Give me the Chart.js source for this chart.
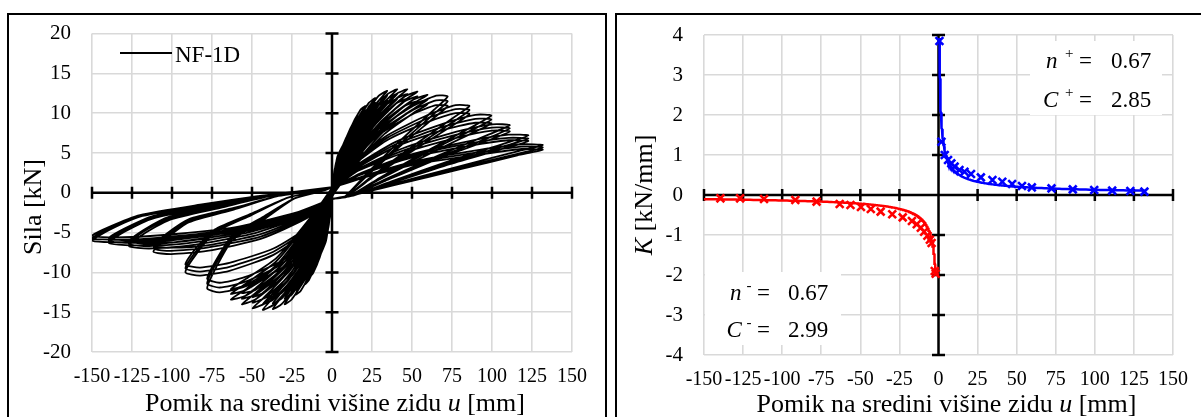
<!DOCTYPE html>
<html>
<head>
<meta charset="utf-8">
<script src="https://cdn.jsdelivr.net/npm/chart.js@4.4.1/dist/chart.umd.min.js"></script>
<style>
  html, body { margin: 0; padding: 0; background: #fff; width: 1201px; height: 417px; overflow: hidden; }
  .panel { position: absolute; border: 2px solid #000; box-sizing: border-box; }
  canvas { position: absolute; top: 0; }
</style>
</head>
<body>
<div class="panel" style="left:7px; top:13px; width:600px; height:520px;"></div>
<div class="panel" style="left:615px; top:13px; width:700px; height:520px;"></div>
<canvas id="hyst" width="610" height="417" style="left:0px;"></canvas>
<canvas id="stiff" width="591" height="417" style="left:610px;"></canvas>
<script>
// ---------------- Force-displacement loops, specimen NF-1D ----------------
// Each cycle: [u, F] pairs in mm / kN, positive half then negative half.
// "b" and "c" arrays are the repeated cycles at the same amplitude.
const cycle01 = [[0,0],[0.16,1.05],[0.4,1.5],[0.2,0.68],[0,-0.3],[-0.7,-2.5],[-1.8,-3.5],[-0.9,-1.6],[0,0.2]];
const cycle02 = [[0.8,1.9],[1.9,2.7],[0.95,1.2],[0,-0.3],[-1.8,-3.7],[-4.4,-5.3],[-2.2,-2.4],[0,0.2]];
const cycle03 = [[1.6,2.9],[4,4.2],[2,1.9],[0,-0.3],[-2.2,-4.3],[-5.5,-6.2],[-2.8,-2.8],[0,0.2]];
const cycle04 = [[2.4,3.7],[6.1,5.3],[3.1,2.4],[0,-0.3],[-2.8,-5.0],[-7.1,-7.2],[-3.6,-3.2],[0,0.2]];
const cycle05 = [[3.3,4.5],[8.2,6.4],[4.1,2.9],[0,-0.4],[-3.7,-6.0],[-9.2,-8.5],[-4.6,-3.8],[0,0.4]];
const cycle06 = [[2.6,2.9],[5.7,5.3],[8.8,6.9],[10.3,7.3],[8.8,6.6],[5.7,5.0],[2.6,2.4],[0,-0.5],[-2.8,-4.1],[-6.2,-7.2],[-9.6,-9.1],[-11.3,-9.5],[-9.6,-8.6],[-6.2,-6.5],[-2.8,-2.9],[0,0.5]];
const cycle06b = [[2.6,2.7],[5.7,5.0],[8.8,6.6],[10.3,6.9],[8.8,6.2],[5.7,4.6],[2.6,2.2],[0,-0.4],[-2.8,-3.9],[-6.2,-6.8],[-9.6,-8.6],[-11.3,-9.0],[-9.6,-8.1],[-6.2,-6.1],[-2.8,-2.8],[0,0.4]];
const cycle06c = [[2.6,2.6],[5.7,4.8],[8.8,6.3],[10.3,6.6],[8.8,5.9],[5.7,4.4],[2.6,2.1],[0,-0.4],[-2.8,-3.7],[-6.2,-6.5],[-9.6,-8.2],[-11.3,-8.6],[-9.6,-7.7],[-6.2,-5.8],[-2.8,-2.7],[0,0.4]];
const cycle07 = [[3.4,3.4],[7.4,6.1],[11.4,8.0],[13.4,8.4],[11.4,7.6],[7.4,5.7],[3.4,2.8],[0,-0.5],[-3.5,-4.5],[-7.6,-8.0],[-11.8,-10.1],[-13.9,-10.5],[-11.8,-9.5],[-7.6,-7.1],[-3.5,-3.3],[0,0.5]];
const cycle07b = [[3.4,3.1],[7.4,5.8],[11.4,7.6],[13.4,8.0],[11.4,7.2],[7.4,5.4],[3.4,2.6],[0,-0.4],[-3.5,-4.3],[-7.6,-7.6],[-11.8,-9.6],[-13.9,-10.0],[-11.8,-9.0],[-7.6,-6.8],[-3.5,-3.1],[0,0.4]];
const cycle07c = [[3.4,2.9],[7.4,5.5],[11.4,7.2],[13.4,7.6],[11.4,6.8],[7.4,5.1],[3.4,2.5],[0,-0.4],[-3.5,-4.1],[-7.6,-7.2],[-11.8,-9.1],[-13.9,-9.5],[-11.8,-8.6],[-7.6,-6.5],[-3.5,-2.9],[0,0.4]];
const cycle08 = [[4.2,3.8],[9.1,7.0],[14.1,9.1],[16.6,9.6],[14.1,8.7],[9.1,6.5],[4.2,3.2],[0,-0.5],[-4.3,-4.9],[-9.4,-8.7],[-14.5,-11.0],[-17,-11.5],[-14.5,-10.4],[-9.4,-7.8],[-4.3,-3.6],[0,0.5]];
const cycle08b = [[4.2,3.5],[9.1,6.6],[14.1,8.6],[16.6,9.1],[14.1,8.2],[9.1,6.1],[4.2,2.9],[0,-0.4],[-4.3,-4.7],[-9.4,-8.3],[-14.5,-10.5],[-17,-10.9],[-14.5,-9.8],[-9.4,-7.4],[-4.3,-3.4],[0,0.4]];
const cycle08c = [[4.2,3.3],[9.1,6.3],[14.1,8.2],[16.6,8.6],[14.1,7.8],[9.1,5.8],[4.2,2.8],[0,-0.4],[-4.3,-4.5],[-9.4,-7.9],[-14.5,-10.0],[-17,-10.4],[-14.5,-9.3],[-9.4,-7.0],[-4.3,-3.2],[0,0.4]];
const cycle09 = [[5.2,4.4],[11.4,8.0],[17.7,10.4],[20.8,10.9],[17.7,9.9],[11.4,7.4],[5.2,3.6],[0,-0.5],[-5.7,-5.5],[-12.6,-9.7],[-19.5,-12.3],[-22.9,-12.8],[-19.5,-11.5],[-12.6,-8.7],[-5.7,-4.0],[0,0.5]];
const cycle09b = [[5.2,4.1],[11.4,7.5],[17.7,9.9],[20.8,10.4],[17.7,9.4],[11.4,7.0],[5.2,3.3],[0,-0.4],[-5.7,-5.2],[-12.6,-9.3],[-19.5,-11.7],[-22.9,-12.2],[-19.5,-11.0],[-12.6,-8.3],[-5.7,-3.8],[0,0.4]];
const cycle09c = [[5.2,3.9],[11.4,7.1],[17.7,9.4],[20.8,9.9],[17.7,8.9],[11.4,6.7],[5.2,3.1],[0,-0.4],[-5.7,-4.9],[-12.6,-8.8],[-19.5,-11.1],[-22.9,-11.6],[-19.5,-10.5],[-12.6,-7.9],[-5.7,-3.6],[0,0.4]];
const cycle10 = [[6.8,4.8],[14.9,8.7],[23,11.3],[27.1,11.9],[23,10.8],[14.9,8.1],[6.8,3.9],[0,-0.5],[-7.4,-6.0],[-16.3,-10.6],[-25.2,-13.4],[-29.6,-14.0],[-25.2,-12.6],[-16.3,-9.5],[-7.4,-4.3],[0,0.5]];
const cycle10b = [[6.8,4.4],[14.9,8.1],[23,10.7],[27.1,11.3],[23,10.2],[14.9,7.6],[6.8,3.6],[0,-0.4],[-7.4,-5.7],[-16.3,-10.1],[-25.2,-12.8],[-29.6,-13.3],[-25.2,-12.0],[-16.3,-9.0],[-7.4,-4.1],[0,0.4]];
const cycle10c = [[6.8,4.2],[14.9,7.7],[23,10.2],[27.1,10.7],[23,9.7],[14.9,7.2],[6.8,3.4],[0,-0.4],[-7.4,-5.4],[-16.3,-9.6],[-25.2,-12.2],[-29.6,-12.6],[-25.2,-11.4],[-16.3,-8.6],[-7.4,-3.9],[0,0.4]];
const cycle11 = [[8.6,5.1],[19,9.3],[29.3,12.2],[34.5,12.8],[29.3,11.6],[19,8.7],[8.6,4.2],[0,-0.5],[-9.3,-6.3],[-20.4,-11.1],[-31.5,-14.0],[-37,-14.6],[-31.5,-13.1],[-20.4,-9.9],[-9.3,-4.5],[0,0.5]];
const cycle11b = [[8.6,4.8],[19,8.8],[29.3,11.6],[34.5,12.2],[29.3,11.0],[19,8.2],[8.6,3.9],[0,-0.4],[-9.3,-6.0],[-20.4,-10.6],[-31.5,-13.3],[-37,-13.9],[-31.5,-12.5],[-20.4,-9.5],[-9.3,-4.3],[0,0.4]];
const cycle11c = [[8.6,4.6],[19,8.4],[29.3,11.0],[34.5,11.6],[29.3,10.5],[19,7.8],[8.6,3.7],[0,-0.4],[-9.3,-5.7],[-20.4,-10.1],[-31.5,-12.6],[-37,-13.2],[-31.5,-11.9],[-20.4,-9.0],[-9.3,-4.1],[0,0.4]];
const cycle12 = [[10.2,5.2],[22.4,9.5],[34.7,12.4],[40.8,13.0],[34.7,11.8],[22.4,8.8],[10.2,4.3],[0,-0.5],[-10.8,-6.3],[-23.8,-11.2],[-36.8,-14.1],[-43.3,-14.7],[-36.8,-13.2],[-23.8,-10.0],[-10.8,-4.6],[0,0.5]];
const cycle12b = [[10.2,4.8],[22.4,8.9],[34.7,11.8],[40.8,12.4],[34.7,11.2],[22.4,8.3],[10.2,4.0],[0,-0.4],[-10.8,-6.0],[-23.8,-10.6],[-36.8,-13.4],[-43.3,-14.0],[-36.8,-12.6],[-23.8,-9.5],[-10.8,-4.3],[0,0.4]];
const cycle12c = [[10.2,4.6],[22.4,8.5],[34.7,11.2],[40.8,11.8],[34.7,10.6],[22.4,7.9],[10.2,3.8],[0,-0.4],[-10.8,-5.7],[-23.8,-10.1],[-36.8,-12.7],[-43.3,-13.3],[-36.8,-12.0],[-23.8,-9.0],[-10.8,-4.1],[0,0.4]];
const cycle13 = [[11.8,5.2],[25.9,9.5],[40,12.4],[47.1,13.0],[40,11.8],[25.9,8.8],[11.8,4.3],[0,-0.5],[-12.4,-6.2],[-27.3,-11.0],[-42.2,-13.9],[-49.6,-14.5],[-42.2,-13.1],[-27.3,-9.9],[-12.4,-4.5],[0,0.5]];
const cycle13b = [[11.8,4.8],[25.9,8.9],[40,11.8],[47.1,12.4],[40,11.2],[25.9,8.3],[11.8,4.0],[0,-0.4],[-12.4,-5.9],[-27.3,-10.5],[-42.2,-13.2],[-49.6,-13.8],[-42.2,-12.4],[-27.3,-9.4],[-12.4,-4.3],[0,0.4]];
const cycle13c = [[11.8,4.6],[25.9,8.5],[40,11.2],[47.1,11.8],[40,10.6],[25.9,7.9],[11.8,3.8],[0,-0.4],[-12.4,-5.6],[-27.3,-10.0],[-42.2,-12.5],[-49.6,-13.1],[-42.2,-11.8],[-27.3,-8.9],[-12.4,-4.1],[0,0.4]];
const cycle14 = [[13.4,5.1],[29.4,9.3],[45.4,12.1],[53.4,12.7],[45.4,11.6],[29.4,8.6],[13.4,4.2],[0,-0.5],[-14.1,-6.0],[-31,-10.6],[-47.9,-13.4],[-56.3,-14.0],[-47.9,-12.6],[-31,-9.5],[-14.1,-4.3],[0,0.5]];
const cycle14b = [[13.4,4.7],[29.4,8.7],[45.4,11.5],[53.4,12.1],[45.4,10.9],[29.4,8.1],[13.4,3.9],[0,-0.4],[-14.1,-5.7],[-31,-10.1],[-47.9,-12.8],[-56.3,-13.3],[-47.9,-12.0],[-31,-9.0],[-14.1,-4.1],[0,0.4]];
const cycle14c = [[13.4,4.5],[29.4,8.3],[45.4,10.9],[53.4,11.5],[45.4,10.4],[29.4,7.7],[13.4,3.7],[0,-0.4],[-14.1,-5.4],[-31,-9.6],[-47.9,-12.2],[-56.3,-12.6],[-47.9,-11.4],[-31,-8.6],[-14.1,-3.9],[0,0.4]];
const cycle15 = [[14.9,4.9],[32.8,9.0],[50.7,11.7],[59.7,12.3],[50.7,11.2],[32.8,8.4],[14.9,4.1],[0,-0.5],[-15.8,-5.8],[-34.8,-10.2],[-53.7,-12.9],[-63.2,-13.4],[-53.7,-12.1],[-34.8,-9.1],[-15.8,-4.2],[0,0.6]];
const cycle15b = [[14.9,4.6],[32.8,8.4],[50.7,11.1],[59.7,11.7],[50.7,10.5],[32.8,7.8],[14.9,3.7],[0,-0.4],[-15.8,-5.5],[-34.8,-9.7],[-53.7,-12.2],[-63.2,-12.7],[-53.7,-11.4],[-34.8,-8.6],[-15.8,-3.9],[0,0.6]];
const cycle15c = [[14.9,4.4],[32.8,8.0],[50.7,10.5],[59.7,11.1],[50.7,10.0],[32.8,7.4],[14.9,3.5],[0,-0.4],[-15.8,-5.2],[-34.8,-9.2],[-53.7,-11.6],[-63.2,-12.1],[-53.7,-10.8],[-34.8,-8.2],[-15.8,-3.7],[0,0.6]];
const cycle16 = [[10.8,4.2],[28.9,8.0],[50.6,10.9],[65.1,12.2],[72.3,12.1],[63.6,10.4],[43.4,6.7],[21.7,2.4],[7.2,-0.6],[0,-0.8],[-11.7,-5.4],[-31.2,-9.4],[-54.6,-11.8],[-70.2,-12.5],[-78,-12.0],[-72.5,-9.4],[-62.4,-6.0],[-42.9,-3.4],[-23.4,-0.7],[0,0.7]];
const cycle16b = [[10.8,4.0],[28.9,7.6],[50.6,10.4],[65.1,11.6],[72.3,11.5],[63.6,9.9],[43.4,6.3],[21.7,2.2],[7.2,-0.6],[0,-0.8],[-11.7,-5.1],[-31.2,-8.9],[-54.6,-11.2],[-70.2,-11.9],[-78,-11.4],[-72.5,-8.9],[-62.4,-5.7],[-42.9,-3.2],[-23.4,-0.7],[0,0.7]];
const cycle16c = [[10.8,3.8],[28.9,7.2],[50.6,9.9],[65.1,11.0],[72.3,10.9],[63.6,9.4],[43.4,6.0],[21.7,2.1],[7.2,-0.6],[0,-0.8],[-11.7,-4.8],[-31.2,-8.5],[-54.6,-10.6],[-70.2,-11.3],[-78,-10.8],[-72.5,-8.5],[-62.4,-5.4],[-42.9,-3.0],[-23.4,-0.7],[0,0.7]];
const cycle17 = [[12.9,3.8],[34.4,7.2],[60.1,9.8],[77.3,11.0],[85.9,10.9],[75.6,9.4],[51.5,6.0],[25.8,2.2],[8.6,-0.5],[0,-0.8],[-13.7,-4.5],[-36.6,-7.8],[-64.1,-9.8],[-82.4,-10.4],[-91.6,-10.0],[-85.2,-7.8],[-73.3,-5.0],[-50.4,-2.8],[-27.5,-0.6],[0,0.7]];
const cycle17b = [[12.9,3.6],[34.4,6.9],[60.1,9.4],[77.3,10.5],[85.9,10.4],[75.6,8.9],[51.5,5.7],[25.8,2.1],[8.6,-0.5],[0,-0.8],[-13.7,-4.3],[-36.6,-7.4],[-64.1,-9.3],[-82.4,-9.9],[-91.6,-9.5],[-85.2,-7.4],[-73.3,-4.8],[-50.4,-2.7],[-27.5,-0.6],[0,0.7]];
const cycle17c = [[12.9,3.4],[34.4,6.6],[60.1,8.9],[77.3,10.0],[85.9,9.9],[75.6,8.5],[51.5,5.4],[25.8,2.0],[8.6,-0.5],[0,-0.8],[-13.7,-4.1],[-36.6,-7.0],[-64.1,-8.8],[-82.4,-9.4],[-91.6,-9.0],[-85.2,-7.0],[-73.3,-4.6],[-50.4,-2.6],[-27.5,-0.6],[0,0.7]];
const cycle18 = [[14.9,3.4],[39.8,6.4],[69.7,8.7],[89.6,9.8],[99.6,9.7],[87.6,8.3],[59.8,5.3],[29.9,1.9],[10,-0.5],[0,-0.8],[-16.7,-3.3],[-44.6,-5.8],[-78.1,-7.3],[-100.4,-7.7],[-111.6,-7.4],[-103.8,-5.8],[-89.3,-3.7],[-61.4,-2.1],[-33.5,-0.4],[0,0.7]];
const cycle18b = [[14.9,3.2],[39.8,6.1],[69.7,8.3],[89.6,9.3],[99.6,9.2],[87.6,7.9],[59.8,5.1],[29.9,1.8],[10,-0.5],[0,-0.8],[-16.7,-3.1],[-44.6,-5.5],[-78.1,-6.9],[-100.4,-7.3],[-111.6,-7.0],[-103.8,-5.5],[-89.3,-3.5],[-61.4,-2.0],[-33.5,-0.4],[0,0.7]];
const cycle18c = [[14.9,3.0],[39.8,5.8],[69.7,7.9],[89.6,8.8],[99.6,8.7],[87.6,7.5],[59.8,4.8],[29.9,1.7],[10,-0.5],[0,-0.8],[-16.7,-2.9],[-44.6,-5.2],[-78.1,-6.6],[-100.4,-6.9],[-111.6,-6.7],[-103.8,-5.2],[-89.3,-3.3],[-61.4,-1.9],[-33.5,-0.4],[0,0.7]];
const cycle19 = [[16.7,3.0],[44.4,5.6],[77.8,7.7],[100,8.6],[111.1,8.5],[97.8,7.3],[66.7,4.7],[33.3,1.7],[11.1,-0.4],[0,-0.8],[-19,-3.0],[-50.8,-5.2],[-88.8,-6.6],[-114.2,-7.0],[-126.9,-6.7],[-118,-5.2],[-101.5,-3.4],[-69.8,-1.9],[-38.1,-0.4],[0,0.7]];
const cycle19b = [[16.7,2.9],[44.4,5.3],[77.8,7.3],[100,8.2],[111.1,8.1],[97.8,6.9],[66.7,4.5],[33.3,1.6],[11.1,-0.4],[0,-0.8],[-19,-2.9],[-50.8,-4.9],[-88.8,-6.3],[-114.2,-6.7],[-126.9,-6.4],[-118,-4.9],[-101.5,-3.2],[-69.8,-1.8],[-38.1,-0.4],[0,0.7]];
const cycle19c = [[16.7,2.8],[44.4,5.0],[77.8,6.9],[100,7.8],[111.1,7.7],[97.8,6.6],[66.7,4.3],[33.3,1.5],[11.1,-0.4],[0,-0.8],[-19,-2.8],[-50.8,-4.7],[-88.8,-6.0],[-114.2,-6.4],[-126.9,-6.1],[-118,-4.7],[-101.5,-3.0],[-69.8,-1.7],[-38.1,-0.4],[0,0.7]];
const cycle20 = [[18.4,2.5],[49.1,4.8],[85.9,6.5],[110.4,7.3],[122.7,7.2],[108,6.2],[73.6,4.0],[36.8,1.4],[12.3,-0.4],[0,-0.8],[-20.9,-2.8],[-55.8,-4.9],[-97.7,-6.2],[-125.6,-6.6],[-139.5,-6.3],[-129.7,-4.9],[-111.6,-3.2],[-76.7,-1.8],[-41.9,-0.4],[0,0.7]];
const cycle20b = [[18.4,2.4],[49.1,4.6],[85.9,6.2],[110.4,6.9],[122.7,6.8],[108,5.9],[73.6,3.8],[36.8,1.3],[12.3,-0.4],[0,-0.8],[-20.9,-2.7],[-55.8,-4.7],[-97.7,-5.9],[-125.6,-6.3],[-139.5,-6.0],[-129.7,-4.7],[-111.6,-3.0],[-76.7,-1.7],[-41.9,-0.4],[0,0.7]];
const cycle20c = [[18.4,2.3],[49.1,4.4],[85.9,5.9],[110.4,6.6],[122.7,6.5],[108,5.6],[73.6,3.6],[36.8,1.2],[12.3,-0.4],[0,-0.8],[-20.9,-2.6],[-55.8,-4.5],[-97.7,-5.6],[-125.6,-6.0],[-139.5,-5.7],[-129.7,-4.5],[-111.6,-2.9],[-76.7,-1.6],[-41.9,-0.4],[0,0.7]];
const cycle21 = [[19.8,2.1],[52.7,4.0],[92.2,5.4],[118.5,6.1],[131.7,6.0],[115.9,5.2],[79,3.3],[39.5,1.2],[13.2,-0.3],[0,-0.8],[-22.5,-2.7],[-60,-4.7],[-105,-5.9],[-135,-6.2],[-150,-6.0],[-139.5,-4.7],[-120,-3.0],[-82.5,-1.7],[-45,-0.4],[0,0.7]];
const cycle21b = [[19.8,2.0],[52.7,3.8],[92.2,5.1],[118.5,5.8],[131.7,5.7],[115.9,4.9],[79,3.1],[39.5,1.1],[13.2,-0.3],[0,-0.8],[-22.5,-2.6],[-60,-4.5],[-105,-5.6],[-135,-5.9],[-150,-5.7],[-139.5,-4.5],[-120,-2.9],[-82.5,-1.6],[-45,-0.4],[0,0.7]];
const cycle21c = [[19.8,1.9],[52.7,3.6],[92.2,4.8],[118.5,5.5],[131.7,5.4],[115.9,4.7],[79,2.9],[39.5,1.0],[13.2,-0.3],[0,-0.8],[-22.5,-2.5],[-60,-4.3],[-105,-5.3],[-135,-5.6],[-150,-5.4],[-139.5,-4.3],[-120,-2.8],[-82.5,-1.5],[-45,-0.4],[0,0.7]];
const cycles = [cycle01, cycle02, cycle03, cycle04, cycle05,
  cycle06, cycle06b, cycle06c, cycle07, cycle07b, cycle07c, cycle08, cycle08b, cycle08c,
  cycle09, cycle09b, cycle09c, cycle10, cycle10b, cycle10c, cycle11, cycle11b, cycle11c,
  cycle12, cycle12b, cycle12c, cycle13, cycle13b, cycle13c, cycle14, cycle14b, cycle14c,
  cycle15, cycle15b, cycle15c, cycle16, cycle16b, cycle16c, cycle17, cycle17b, cycle17c,
  cycle18, cycle18b, cycle18c, cycle19, cycle19b, cycle19c, cycle20, cycle20b, cycle20c,
  cycle21, cycle21b, cycle21c];

// ---------------- Secant stiffness per cycle ----------------
const stiffPosU = [0.6, 1.9, 4.0, 6.1, 8.2, 10.3, 13.4, 16.6, 20.8, 27.1, 34.5, 40.8, 47.1, 53.4, 59.7, 72.3, 85.9, 99.6, 111.1, 122.7, 131.7];
const stiffPosK = [3.85, 1.33, 1.0, 0.875, 0.79, 0.71, 0.625, 0.58, 0.525, 0.44, 0.375, 0.33, 0.275, 0.225, 0.19, 0.165, 0.14, 0.125, 0.11, 0.10, 0.085];
const stiffNegU = [-1.8, -2.4, -4.4, -5.5, -7.1, -9.2, -11.3, -13.9, -17, -22.9, -29.6, -37, -43.3, -49.6, -56.3, -63.2, -78, -91.6, -111.6, -126.9, -139.5];
const stiffNegK = [-1.97, -1.9, -1.2, -1.12, -1.02, -0.92, -0.82, -0.73, -0.65, -0.56, -0.48, -0.415, -0.35, -0.3, -0.25, -0.225, -0.165, -0.125, -0.1, -0.083, -0.083];

// Power-law fit K = C * |u|^(-n) for each loading direction
const fitPos = { n: 0.67, C: 2.85, uFrom: 0.62, uTo: 132 };
const fitNeg = { n: 0.67, C: 2.99, uFrom: 1.9, uTo: 150 };

// Axis ticks
const dispTicks = [-150, -125, -100, -75, -50, -25, 0, 25, 50, 75, 100, 125, 150];
const forceTicks = [-20, -15, -10, -5, 0, 5, 10, 15, 20];
const stiffTicks = [-4, -3, -2, -1, 0, 1, 2, 3, 4];

const SERIF = "'Liberation Serif', 'Times New Roman', serif";
const X_TICK_FONT = { family: SERIF, size: 20 };
const Y_TICK_FONT = { family: SERIF, size: 21 };

function fitCurve(fit, sign) {
  const pts = [];
  const steps = 240;
  const a = Math.log(fit.uFrom), b = Math.log(fit.uTo);
  for (let i = 0; i <= steps; i++) {
    const u = Math.exp(a + (b - a) * i / steps);
    pts.push({ x: sign * u, y: sign * fit.C * Math.pow(u, -fit.n) });
  }
  return pts;
}

// Text pieces placed at given x positions (italic symbols, superscripts)
function drawPieces(ctx, pieces, y) {
  ctx.textBaseline = 'alphabetic';
  ctx.textAlign = 'left';
  pieces.forEach(p => { ctx.font = p.font; ctx.fillText(p.t, p.x, y + (p.dy || 0)); });
}

// Text made of consecutive runs, centered on x
function drawRuns(ctx, runs, x, y) {
  let total = 0;
  runs.forEach(r => { ctx.font = r.font; r.w = ctx.measureText(r.t).width; total += r.w; });
  let cx = x - total / 2;
  ctx.textBaseline = 'alphabetic';
  ctx.textAlign = 'left';
  runs.forEach(r => { ctx.font = r.font; ctx.fillText(r.t, cx, y); cx += r.w; });
}

// Axes through the origin with cross ticks, drawn under the data
const zeroAxes = {
  id: 'zeroAxes',
  beforeDatasetsDraw(chart) {
    const { ctx, scales: { x, y }, chartArea: ca } = chart;
    const x0 = x.getPixelForValue(0), y0 = y.getPixelForValue(0);
    ctx.save();
    ctx.strokeStyle = '#000';
    ctx.lineWidth = 2.5;
    ctx.beginPath();
    ctx.moveTo(ca.left, y0); ctx.lineTo(ca.right, y0);
    ctx.moveTo(x0, ca.top); ctx.lineTo(x0, ca.bottom);
    x.ticks.forEach(t => { const p = x.getPixelForValue(t.value); ctx.moveTo(p, y0 - 6); ctx.lineTo(p, y0 + 6); });
    y.ticks.forEach(t => { const p = y.getPixelForValue(t.value); ctx.moveTo(x0 - 6.5, p); ctx.lineTo(x0 + 6.5, p); });
    ctx.stroke();
    ctx.restore();
  }
};

const TITLE = "26px " + SERIF;
const TITLE_I = "italic 26px " + SERIF;

const hystText = {
  id: 'hystText',
  afterDraw(chart) {
    const { ctx, chartArea: ca } = chart;
    ctx.save();
    ctx.fillStyle = '#000';
    drawRuns(ctx, [{ t: 'Pomik na sredini višine zidu ', font: TITLE }, { t: 'u', font: TITLE_I }, { t: ' [mm]', font: TITLE }],
      (ca.left + ca.right) / 2 + 3, 411);
    ctx.save();
    ctx.translate(41, 207);
    ctx.rotate(-Math.PI / 2);
    drawRuns(ctx, [{ t: 'Sila [kN]', font: TITLE }], 0, 0);
    ctx.restore();
    // legend
    ctx.strokeStyle = '#000';
    ctx.lineWidth = 2;
    ctx.beginPath(); ctx.moveTo(120, 53); ctx.lineTo(172, 53); ctx.stroke();
    drawPieces(ctx, [{ t: chart.data.datasets[0].label, font: "23px " + SERIF, x: 175 }], 61.5);
    ctx.restore();
  }
};

const NOTE = "23px " + SERIF;
const NOTE_I = "italic 23px " + SERIF;
const SUP = "15px " + SERIF;

const stiffText = {
  id: 'stiffText',
  afterDraw(chart) {
    const { ctx, chartArea: ca } = chart;
    ctx.save();
    ctx.fillStyle = '#000';
    drawRuns(ctx, [{ t: 'Pomik na sredini višine zidu ', font: TITLE }, { t: 'u', font: TITLE_I }, { t: ' [mm]', font: TITLE }],
      (ca.left + ca.right) / 2 + 8, 412);
    ctx.save();
    ctx.translate(42, 195);
    ctx.rotate(-Math.PI / 2);
    drawRuns(ctx, [{ t: 'K', font: TITLE_I }, { t: ' [kN/mm]', font: TITLE }], 0, 0);
    ctx.restore();
    // parameter boxes
    ctx.fillStyle = '#fff';
    ctx.fillRect(420, 41, 132, 74);
    ctx.fillRect(95, 272, 136, 73);
    ctx.fillStyle = '#000';
    drawPieces(ctx, [{ t: 'n', font: NOTE_I, x: 436 }, { t: '+', font: SUP, x: 455, dy: -10 }, { t: '=', font: NOTE, x: 469 }, { t: fitPos.n.toFixed(2), font: NOTE, x: 501 }], 68);
    drawPieces(ctx, [{ t: 'C', font: NOTE_I, x: 433 }, { t: '+', font: SUP, x: 455, dy: -10 }, { t: '=', font: NOTE, x: 469 }, { t: fitPos.C.toFixed(2), font: NOTE, x: 501 }], 107);
    drawPieces(ctx, [{ t: 'n', font: NOTE_I, x: 120 }, { t: '-', font: SUP, x: 136.5, dy: -10 }, { t: '=', font: NOTE, x: 147 }, { t: fitNeg.n.toFixed(2), font: NOTE, x: 178 }], 300);
    drawPieces(ctx, [{ t: 'C', font: NOTE_I, x: 116.5 }, { t: '-', font: SUP, x: 136.5, dy: -10 }, { t: '=', font: NOTE, x: 147 }, { t: fitNeg.C.toFixed(2), font: NOTE, x: 178 }], 337);
    ctx.restore();
  }
};

function fixedTicks(list) {
  return function (scale) { scale.ticks = list.map(v => ({ value: v })); };
}

const gridStyle = { color: '#d9d9d9', lineWidth: 1.6, drawTicks: false };

// ---------------- Left chart: hysteresis ----------------
const hystData = [];
cycles.forEach(c => c.forEach(([u, F]) => hystData.push({ x: u, y: F })));

new Chart(document.getElementById('hyst'), {
  type: 'scatter',
  data: {
    datasets: [{
      label: 'NF-1D', data: hystData, showLine: true, borderColor: '#000', borderWidth: 1.8,
      pointRadius: 0, tension: 0.2, fill: false
    }]
  },
  options: {
    responsive: false, animation: false, devicePixelRatio: 1,
    layout: { padding: { left: 0, right: 38, top: 32, bottom: 0 } },
    plugins: { legend: { display: false }, tooltip: { enabled: false } },
    scales: {
      x: {
        type: 'linear', min: -150, max: 150,
        afterBuildTicks: fixedTicks(dispTicks),
        ticks: { font: X_TICK_FONT, color: '#000', padding: 13, maxRotation: 0, minRotation: 0, autoSkip: false },
        grid: gridStyle, border: { display: false },
        afterFit(s) { s.height = 65; }
      },
      y: {
        type: 'linear', min: -20, max: 20,
        afterBuildTicks: fixedTicks(forceTicks),
        ticks: { font: Y_TICK_FONT, color: '#000', padding: 21 },
        grid: gridStyle, border: { display: false },
        afterFit(s) { s.width = 92; }
      }
    }
  },
  plugins: [zeroAxes, hystText]
});

// ---------------- Right chart: stiffness ----------------
const posPts = stiffPosU.map((u, i) => ({ x: u, y: stiffPosK[i] }));
const negPts = stiffNegU.map((u, i) => ({ x: u, y: stiffNegK[i] }));

new Chart(document.getElementById('stiff'), {
  type: 'scatter',
  data: {
    datasets: [
      { label: 'K+ fit', data: fitCurve(fitPos, 1), showLine: true, borderColor: '#0000ff', borderWidth: 2.5, pointRadius: 0 },
      { label: 'K- fit', data: fitCurve(fitNeg, -1), showLine: true, borderColor: '#ff0000', borderWidth: 2.5, pointRadius: 0 },
      { label: 'K+', data: posPts, showLine: false, pointStyle: 'crossRot', pointRadius: 5.5, borderColor: '#0000ff', borderWidth: 2.6 },
      { label: 'K-', data: negPts, showLine: false, pointStyle: 'crossRot', pointRadius: 5.5, borderColor: '#ff0000', borderWidth: 2.6 }
    ]
  },
  options: {
    responsive: false, animation: false, devicePixelRatio: 1,
    layout: { padding: { left: 0, right: 21, top: 35, bottom: 0 } },
    plugins: { legend: { display: false }, tooltip: { enabled: false } },
    scales: {
      x: {
        type: 'linear', min: -150, max: 150,
        afterBuildTicks: fixedTicks(dispTicks),
        ticks: { font: X_TICK_FONT, color: '#000', padding: 13, maxRotation: 0, minRotation: 0, autoSkip: false },
        grid: gridStyle, border: { display: false },
        afterFit(s) { s.height = 62; }
      },
      y: {
        type: 'linear', min: -4, max: 4,
        afterBuildTicks: fixedTicks(stiffTicks),
        ticks: { font: Y_TICK_FONT, color: '#000', padding: 21 },
        grid: gridStyle, border: { display: false },
        afterFit(s) { s.width = 94; }
      }
    }
  },
  plugins: [zeroAxes, stiffText]
});
</script>
</body>
</html>
